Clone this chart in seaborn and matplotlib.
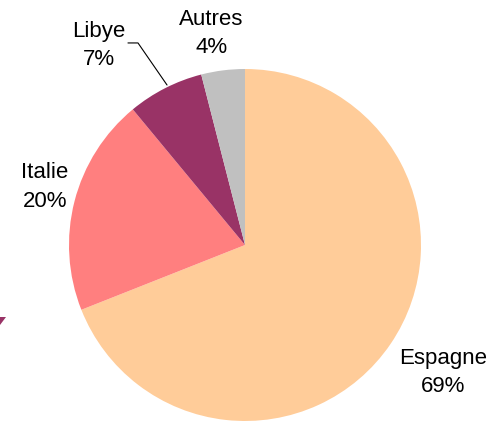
import matplotlib
matplotlib.use("Agg")
import matplotlib.pyplot as plt
import seaborn as sns
from matplotlib.patches import Polygon

sns.set_theme(style="white")
plt.rcParams['font.family'] = ['Liberation Sans', 'DejaVu Sans']

categories = ["Espagne", "Italie", "Libye", "Autres"]
values = [69, 20, 7, 4]
pct_labels = ["69%", "20%", "7%", "4%"]
colors = ["#FFCC99", "#FF7F7F", "#993366", "#C0C0C0"]

W, H = 501, 421
fig = plt.figure(figsize=(W / 100, H / 100), dpi=100)
fig.patch.set_facecolor("white")
cx, cy, r = 245, 245, 176
ax = fig.add_axes([(cx - r) / W, (H - cy - r) / H, 2 * r / W, 2 * r / H])
ax.pie(values, colors=colors, startangle=90, counterclock=False, radius=1,
       wedgeprops=dict(linewidth=0))
ax.set_xlim(-1, 1)
ax.set_ylim(-1, 1)
ax.set_aspect("equal")
ax.axis("off")

label_pos = {
    "Espagne": (1.125, -0.725),
    "Italie": (-1.136, 0.33),
    "Libye": (-0.83, 1.135),
    "Autres": (-0.19, 1.20),
}
for cat, pct in zip(categories, pct_labels):
    x, y = label_pos[cat]
    ax.text(x, y, f"{cat}\n{pct}", ha="center", va="center", fontsize=16,
            color="black", linespacing=1.45, clip_on=False)

# leader line for Libye
ax.plot([-0.665, -0.608, -0.443], [1.148, 1.148, 0.909], color="black",
        lw=0.8, clip_on=False)

# small decorative triangle at left edge
tri = Polygon([[0 / W, 1 - 317 / H], [6 / W, 1 - 317 / H], [0 / W, 1 - 325 / H]],
              closed=True, transform=fig.transFigure, facecolor="#993366",
              edgecolor="none")
fig.patches.append(tri)

fig.savefig("out.png", dpi=100)
